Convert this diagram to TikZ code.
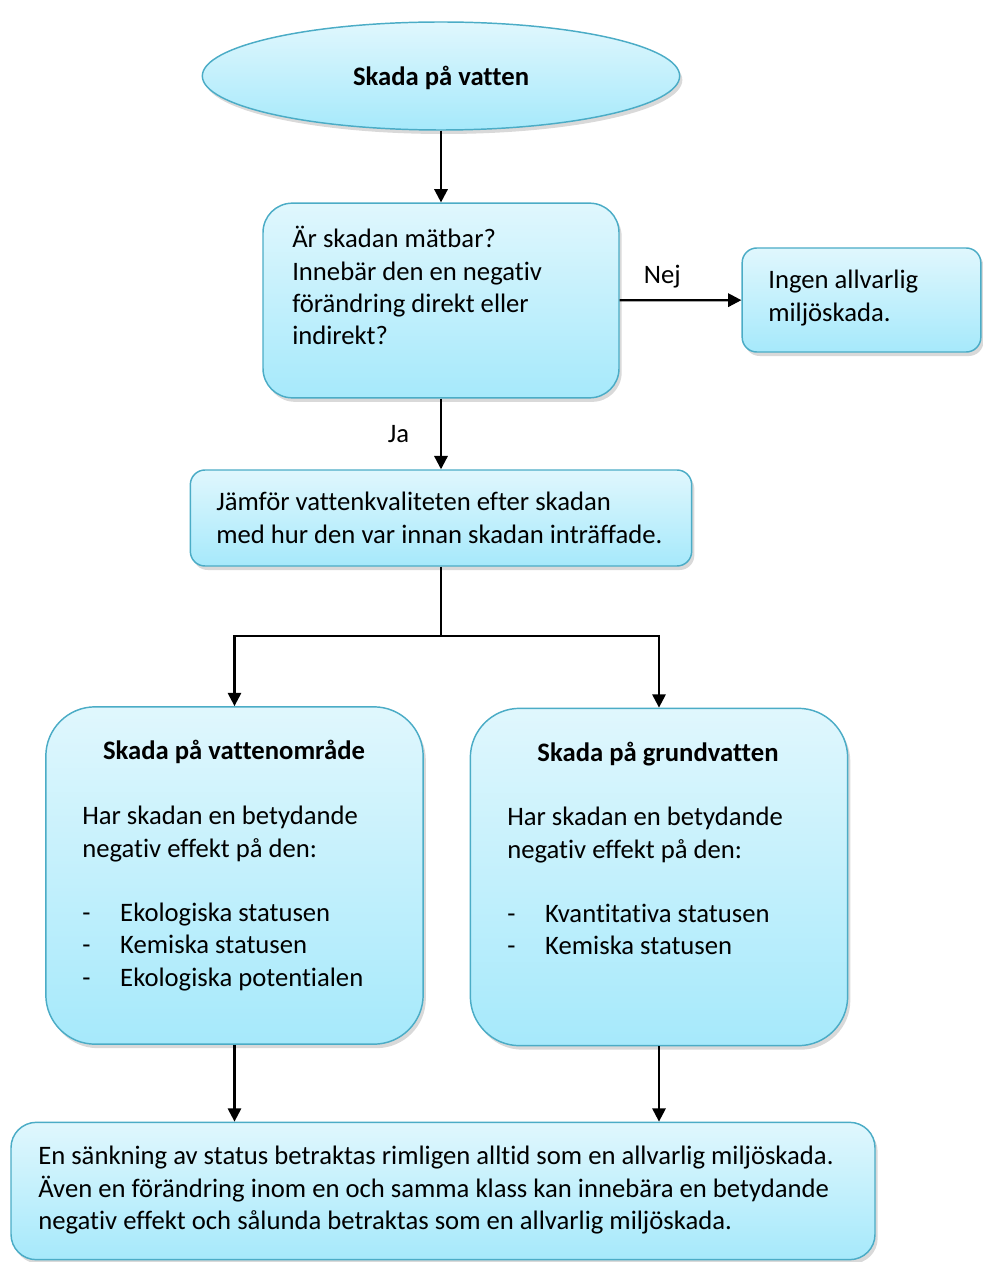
\documentclass[tikz,border=0pt]{standalone}
\usepackage{fontspec}
\setmainfont{Carlito}[Ligatures=CommonOff]
\usetikzlibrary{shapes.geometric,arrows.meta,shadows}
\definecolor{boxtop}{HTML}{E0F7FD}
\definecolor{boxbot}{HTML}{A6E9FB}
\definecolor{boxline}{HTML}{4BACC6}
\tikzset{
>={Triangle[length=10pt,width=10pt]},
arrow/.style={->, line width=1.7pt},
flowbox/.style={draw=boxline, line width=1.1pt, top color=boxtop, bottom color=boxbot,
  drop shadow={opacity=0.3, shadow xshift=2pt, shadow yshift=-3pt}},
txt/.style={inner sep=0pt, align=left, font=\fontsize{20}{24.2}\selectfont},
lbl/.style={inner sep=0pt, font=\fontsize{20}{24.2}\selectfont},
title/.style={inner sep=0pt, font=\bfseries\fontsize{20}{24.2}\selectfont},
}

\begin{document}
\begin{tikzpicture}[x=0.75pt,y=-0.75pt]
    \useasboundingbox (0,0) rectangle (982,1262);

    % boxes
    \node[flowbox, ellipse, minimum width=358pt, minimum height=81pt, title, text depth=0pt] (start) at (441,76) {Skada på vatten};
    \node[flowbox, rounded corners=22pt, minimum width=267pt, minimum height=146pt] (ask) at (441,300.5) {};
    \node[flowbox, rounded corners=11pt, minimum width=179pt, minimum height=78pt] (no) at (861.5,300) {};
    \node[flowbox, rounded corners=11pt, minimum width=376pt, minimum height=72pt] (cmp) at (441,518) {};
    \node[flowbox, rounded corners=37pt, minimum width=283pt, minimum height=253pt] (sw) at (234.5,875.5) {};
    \node[flowbox, rounded corners=37pt, minimum width=283pt, minimum height=253pt] (gw) at (659,877) {};
    \node[flowbox, rounded corners=19pt, minimum width=648pt, minimum height=103pt] (sum) at (443,1191) {};

    % texts
    \node[txt, anchor=north west] (askt) at (292,225) {\strut Är skadan mätbar?\\Innebär den en negativ\\förändring direkt eller\\indirekt?};
    \node[txt, anchor=north west] (not) at (768,266) {\strut Ingen allvarlig\\miljöskada.};
    \node[txt, anchor=north west] (cmpt) at (216,488) {\strut Jämför vattenkvaliteten efter skadan\\med hur den var innan skadan inträffade.};
    \node[title, anchor=base] (swh) at (234,759) {Skada på vattenområde};
    \node[txt, anchor=north west] (swt) at (82,802) {\strut Har skadan en betydande\\negativ effekt på den:\\[24.2pt]
        \makebox[28.5pt][l]{-}Ekologiska statusen\\
        \makebox[28.5pt][l]{-}Kemiska statusen\\
        \makebox[28.5pt][l]{-}Ekologiska potentialen};
    \node[title, anchor=base] (gwh) at (658,761) {Skada på grundvatten};
    \node[txt, anchor=north west] (gwt) at (507,803) {\strut Har skadan en betydande\\negativ effekt på den:\\[24.2pt]
        \makebox[28.5pt][l]{-}Kvantitativa statusen\\
        \makebox[28.5pt][l]{-}Kemiska statusen};
    \node[txt, anchor=north west] (sumt) at (38,1142) {\strut En sänkning av status betraktas rimligen alltid som en allvarlig miljöskada.\\Även en förändring inom en och samma klass kan innebära en betydande\\negativ effekt och sålunda betraktas som en allvarlig miljöskada.};

    % connectors
    \draw[arrow] (start) -- (ask);
    \draw[arrow] (ask) -- node[lbl, pos=0.35, above=8pt] (nej) {Nej} (no);
    \draw[arrow] (ask) -- node[lbl, left=23pt] (ja) {Ja} (cmp);
    \coordinate (split) at (441,636);
    \draw[line width=1.7pt] (cmp) -- (split);
    \draw[arrow] (split) -| (sw);
    \draw[arrow] (split) -| (gw);
    \draw[arrow] (sw) -- (sw |- sum.north);
    \draw[arrow] (gw) -- (gw |- sum.north);

\end{tikzpicture}
\end{document}
